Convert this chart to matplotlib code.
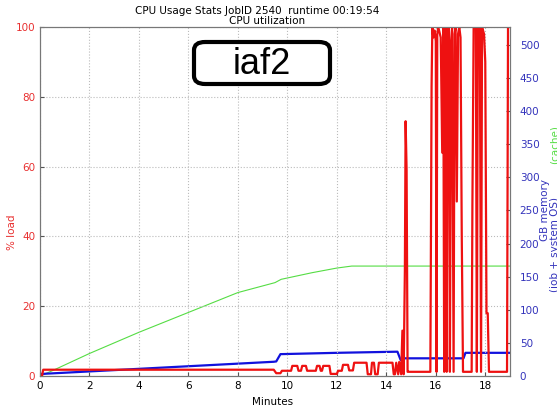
import matplotlib
matplotlib.use('Agg')
import matplotlib.pyplot as plt
from matplotlib.patches import FancyBboxPatch

# CPU load (%), left axis
cpu_t = [0, 0.08, 0.13, 9.45, 9.55, 9.72, 9.78, 10.15, 10.2, 10.4, 10.45, 10.55, 10.6, 10.75, 10.8,
         11.15, 11.2, 11.3, 11.35, 11.4, 11.45, 11.7, 11.75, 12.0, 12.05, 12.2, 12.25, 12.45, 12.5, 12.65,
         12.7, 13.2, 13.25, 13.38, 13.42, 13.5, 13.55, 13.65, 13.7, 14.25, 14.3, 14.35, 14.4, 14.48,
         14.52, 14.6, 14.65, 14.7, 14.75, 14.78, 14.82, 14.86, 14.9, 15.78, 15.8, 15.83, 15.86, 15.9,
         15.95, 16.0, 16.03, 16.06, 16.1, 16.2, 16.26, 16.3, 16.34, 16.37, 16.41, 16.44, 16.48, 16.53,
         16.57, 16.62, 16.66, 16.72, 16.76, 16.8, 16.85, 16.9, 16.95, 17.0, 17.05, 17.1, 17.45, 17.48,
         17.53, 17.62, 17.66, 17.7, 17.78, 17.83, 17.87, 17.95, 18.0, 18.05, 18.1, 18.15, 18.88, 18.92, 19.0]
cpu_load = [0, 0, 1.8, 1.8, 0.8, 0.8, 1.5, 1.5, 2.9, 2.9, 1.5, 1.5, 2.9, 2.9, 1.5,
            1.5, 2.9, 2.9, 1.5, 1.5, 2.9, 2.9, 0.6, 0.6, 1.5, 1.5, 3.2, 3.2, 1.6, 1.6,
            3.8, 3.8, 0.5, 0.5, 3.8, 3.8, 0.5, 0.5, 3.8, 3.8, 0.5, 0.5, 3.8, 0.5,
            4.0, 0.5, 13, 0.5, 30, 73, 59, 1.2, 1.2, 1.2, 33, 83, 100, 97,
            99, 96, 1.2, 98, 100, 97, 64, 100, 1.2, 100, 100, 1.2, 99, 100,
            1.2, 96, 100, 1.2, 98, 100, 50, 98, 100, 97, 40, 1.2, 1.2, 49,
            100, 100, 1.2, 100, 100, 1.2, 100, 98, 90, 18, 18, 1.2, 1.2, 100, 100]

# job + system memory (GB), right axis
mem_t = [0, 9.45, 9.55, 9.72, 12.0, 14.45, 14.58, 14.75, 17.12, 17.2, 19.0]
mem_gb = [3, 21.5, 22, 33, 35, 36.7, 24, 26.7, 26.7, 35, 35]

# cache (GB), right axis
cache_t = [0, 0.5, 2, 4, 6, 8, 9.3, 9.5, 9.75, 10, 11, 12, 12.6, 19.0]
cache_gb = [0, 8, 34, 66, 96, 126, 139, 141, 146, 148, 156, 163, 166, 166]

red = '#ee1111'
blue = '#1111dd'
green = '#55dd44'
tick_blue = '#3333bb'
tick_red = '#e83030'

fig = plt.figure(figsize=(5.57, 4.08), dpi=100)
ax = fig.add_axes([40/557, 32/408, 470/557, 349/408])
ax2 = ax.twinx()

ax2.plot(cache_t, cache_gb, color=green, linewidth=0.8)
ax2.plot(mem_t, mem_gb, color=blue, linewidth=1.6)
ax.plot(cpu_t, cpu_load, color=red, linewidth=1.6)
ax.set_zorder(ax2.get_zorder() + 1)
ax.patch.set_visible(False)

ax.set_xlim(0, 19)
ax.set_ylim(0, 100)
ax2.set_ylim(0, 527)
ax.set_xticks(range(0, 19, 2))
ax.set_yticks(range(0, 101, 20))
ax2.set_yticks(range(0, 501, 50))

ax.grid(True, color='#bbbbbb', linestyle=':', linewidth=0.8)
ax.tick_params(axis='both', direction='in', labelsize=7.5, length=3, color='#555555')
ax.tick_params(axis='y', labelcolor=tick_red)
ax2.tick_params(axis='y', direction='in', labelsize=7.5, length=3, labelcolor=tick_blue, color='#555555', pad=7)
for a in (ax, ax2):
    for s in a.spines.values():
        s.set_color('#777777')

fig.text(273/557, 1 - 402/408, 'Minutes', fontsize=7.5, ha='center', va='center')
fig.text(12/557, 1 - 232/408, '% load', color=tick_red, fontsize=7.5, rotation=90, ha='center', va='center')
fig.text(545/557, 1 - 210/408, 'GB memory', color=tick_blue, fontsize=7.5, rotation=90, ha='center', va='center')
fig.text(555/557, 1 - 245/408, '(job + system OS)', color=tick_blue, fontsize=7.5, rotation=90, ha='center', va='center')
fig.text(555/557, 1 - 145/408, '(cache)', color=green, fontsize=7.5, rotation=90, ha='center', va='center')

fig.text(257/557, 1 - 11/408, 'CPU Usage Stats JobID 2540  runtime 00:19:54', fontsize=7.5, ha='center', va='center')
fig.text(267/557, 1 - 21/408, 'CPU utilization', fontsize=7.5, ha='center', va='center')

# label box, figure pixels 192..332 x 40..85
box = FancyBboxPatch((194/557, 1 - 84/408), 136/557, 42/408, transform=fig.transFigure,
                     boxstyle='round,pad=0,rounding_size=0.02', facecolor='white',
                     edgecolor='black', linewidth=3, zorder=10)
fig.patches.append(box)
fig.text(262/557, 1 - 64/408, 'iaf2', fontsize=26, family='Liberation Sans', ha='center', va='center', zorder=11)

fig.savefig('out.png', dpi=100)
